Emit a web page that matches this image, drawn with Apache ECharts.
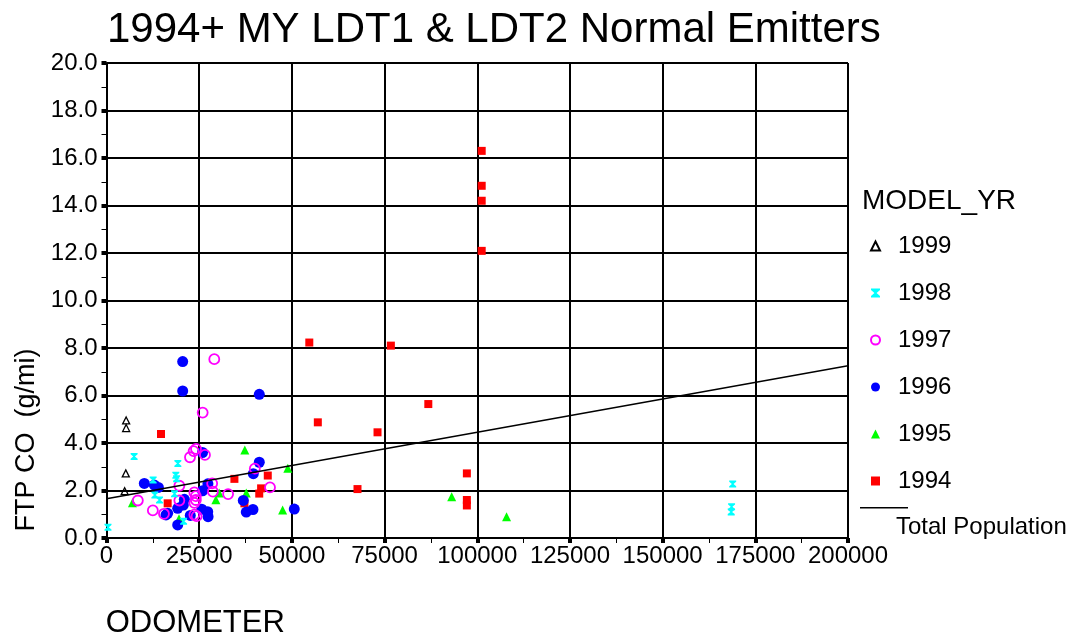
<!DOCTYPE html>
<html>
<head>
<meta charset="utf-8">
<script src="https://cdn.jsdelivr.net/npm/echarts@6/dist/echarts.min.js"></script>
<style>
  html, body { margin: 0; padding: 0; background: #fff; }
  #chart { width: 1073px; height: 634px; }
</style>
</head>
<body>
<div id="chart"></div>
<script>
// [odometer, FTP CO (g/mi)] per model year
const my1999 = [[5300, 4.95], [5300, 4.63], [5200, 2.72], [4900, 1.97]]
const my1998 = [
  [400, 0.45], [7450, 3.43], [19250, 3.14], [18700, 2.64], [18900, 2.5],
  [12580, 2.44], [13050, 1.81], [14300, 1.6], [18350, 1.86], [20800, 0.71],
  [168900, 2.27], [168600, 1.32], [168500, 1.1]
]
const my1997 = [
  [29070, 7.53], [25940, 5.28], [24140, 3.75], [23500, 3.66], [22520, 3.4],
  [26560, 3.5], [40000, 2.92], [19650, 2.2], [28500, 2.3], [28700, 1.95],
  [23700, 1.92], [24100, 1.76], [24100, 1.6], [23700, 1.48], [32800, 1.85],
  [44100, 2.13], [8450, 1.58], [12500, 1.16], [19650, 1.58], [15500, 1.02],
  [23700, 0.98], [24300, 0.92]
]
const my1996 = [
  [20550, 7.43], [20550, 6.19], [41210, 6.05], [25900, 3.6], [41210, 3.19],
  [39600, 2.71], [10200, 2.3], [12900, 2.23], [14000, 2.13], [27350, 2.28],
  [25900, 1.99], [36900, 1.58], [21000, 1.63], [20720, 1.39], [19200, 1.25],
  [16500, 1.04], [16050, 0.97], [22600, 0.95], [25700, 1.21], [27300, 1.11],
  [27400, 0.9], [37700, 1.09], [39500, 1.2], [19200, 0.55], [50650, 1.22]
]
const my1995 = [
  [37300, 3.71], [48900, 2.94], [30400, 1.89], [37700, 1.89], [29500, 1.61],
  [7000, 1.48], [19550, 0.81], [47500, 1.18], [93100, 1.74], [107900, 0.9]
]
const my1994 = [
  [14700, 4.38], [34500, 2.49], [43500, 2.63], [41700, 2.09], [41200, 1.87],
  [37200, 1.46], [16500, 1.46], [54700, 8.23], [76700, 8.1], [86800, 5.64],
  [57000, 4.87], [73100, 4.45], [67700, 2.06], [101200, 16.3], [101200, 14.83],
  [101200, 14.2], [101200, 12.09], [97200, 2.72], [97200, 1.6], [97200, 1.37]
]
// regression over the whole population
const totalPopulation = [[0, 1.65], [200000, 7.25]]

const legendOrder = ['1999', '1998', '1997', '1996', '1995', '1994']
const xTicks = { min: 0, max: 200000, step: 25000 }
const yTicks = { min: 0, max: 20, step: 2 }

const font = 'Liberation Sans, Arial, sans-serif'
const chart = echarts.init(document.getElementById('chart'))

function scatter (name, data, symbol, size, style, z) {
  return {
    name: name,
    type: 'scatter',
    data: data,
    symbol: symbol,
    symbolSize: size,
    itemStyle: Object.assign({ opacity: 1 }, style),
    z: z,
    emphasis: { disabled: true }
  }
}

chart.setOption({
  animation: false,
  backgroundColor: '#fff',
  textStyle: { fontFamily: font, color: '#000' },
  title: [
    {
      text: '1994+ MY LDT1 & LDT2 Normal Emitters',
      left: 102,
      top: 4,
      textStyle: { fontSize: 42, fontWeight: 'normal', color: '#000', fontFamily: font }
    },
    {
      text: 'MODEL_YR',
      left: 857,
      top: 182,
      textStyle: { fontSize: 28, fontWeight: 'normal', color: '#000', fontFamily: font }
    }
  ],
  legend: [
    {
      data: legendOrder,
      orient: 'vertical',
      left: 865,
      top: 229,
      itemWidth: 9,
      itemHeight: 9,
      itemGap: 23,
      selectedMode: false,
      textStyle: { fontSize: 24, color: '#000', fontFamily: font, padding: [0, 0, 0, 13] }
    },
    {
      data: [{
        name: 'Total Population',
        icon: 'path://M0,0H48V1.5H0Z M47.9,40H48V39.9Z'
      }],
      left: 855,
      top: 502,
      itemWidth: 48,
      itemHeight: 40,
      selectedMode: false,
      itemStyle: { borderWidth: 0 },
      textStyle: { fontSize: 24, color: '#000', fontFamily: font, padding: [0, 0, 0, -17] }
    }
  ],
  grid: { left: 106.5, right: 225, top: 63, bottom: 96, outerBoundsMode: 'none' },
  xAxis: {
    type: 'value',
    min: xTicks.min,
    max: xTicks.max,
    interval: xTicks.step,
    name: 'ODOMETER',
    nameLocation: 'middle',
    nameGap: 70,
    nameTextStyle: { fontSize: 31, color: '#000', fontFamily: font, padding: [0, 564, 0, 0] },
    axisLine: { lineStyle: { color: '#000', width: 2 } },
    axisTick: { length: 5, lineStyle: { color: '#000', width: 4 } },
    minorTick: { show: true, splitNumber: 2, length: 5, lineStyle: { color: '#000', width: 1 } },
    splitLine: { lineStyle: { color: '#000', width: 2 } },
    axisLabel: {
      fontSize: 24,
      color: '#000',
      margin: 6,
      fontFamily: font,
      formatter: function (v) { return String(v) }
    }
  },
  yAxis: {
    type: 'value',
    min: yTicks.min,
    max: yTicks.max,
    interval: yTicks.step,
    name: 'FTP CO  (g/mi)',
    nameLocation: 'middle',
    nameGap: 66,
    nameTextStyle: { fontSize: 27, color: '#000', fontFamily: font, padding: [0, 279, 0, 0] },
    axisLine: { lineStyle: { color: '#000', width: 2 } },
    axisTick: { length: 5, lineStyle: { color: '#000', width: 4 } },
    minorTick: { show: true, splitNumber: 2, length: 5, lineStyle: { color: '#000', width: 1 } },
    splitLine: { lineStyle: { color: '#000', width: 2 } },
    axisLabel: {
      fontSize: 24,
      color: '#000',
      margin: 9,
      fontFamily: font,
      formatter: function (v) { return v.toFixed(1) }
    }
  },
  series: [
    scatter('1994', my1994, 'rect', 8, { color: '#ff0000' }, 2),
    scatter('1995', my1995, 'triangle', 9, { color: '#00ff00' }, 3),
    scatter('1996', my1996, 'circle', 11, { color: '#0000ff' }, 4),
    scatter('1997', my1997, 'circle', 10,
      { color: 'rgba(255,255,255,0)', borderColor: '#ff00ff', borderWidth: 1.8 }, 5),
    scatter('1998', my1998, 'path://M0,0H10V1.8L6.2,5L10,8.2V10H0V8.2L3.8,5L0,1.8Z', 7,
      { color: '#00ffff' }, 6),
    scatter('1999', my1999, 'triangle', 7,
      { color: 'rgba(255,255,255,0)', borderColor: '#000', borderWidth: 1.3 }, 7),
    {
      name: 'Total Population',
      type: 'line',
      data: totalPopulation,
      symbol: 'none',
      z: 8,
      lineStyle: { color: '#000', width: 1.5 },
      itemStyle: { color: '#000' },
      emphasis: { disabled: true }
    }
  ]
})
</script>
</body>
</html>
